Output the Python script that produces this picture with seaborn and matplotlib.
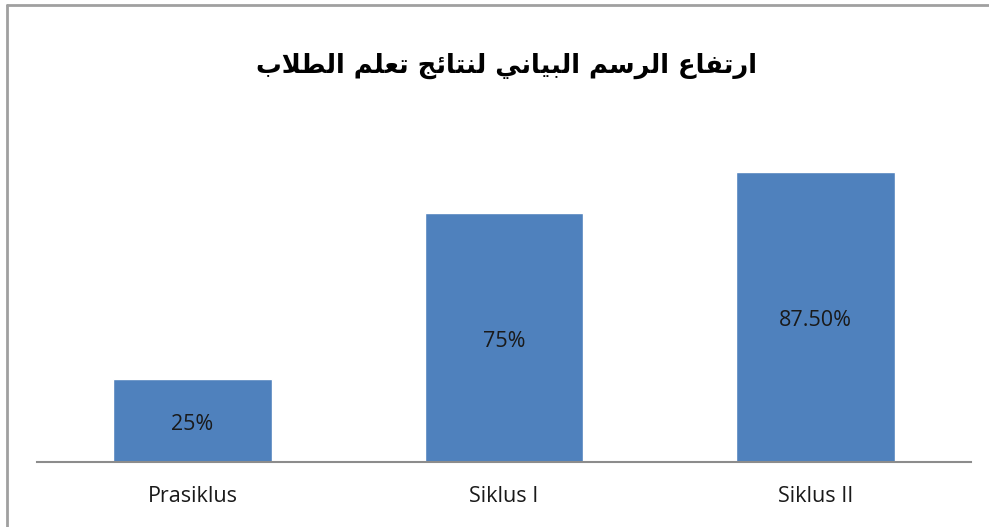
import matplotlib
matplotlib.use("Agg")
import matplotlib.pyplot as plt
import seaborn as sns
import pandas as pd
from matplotlib.lines import Line2D

# Datos
categorias = ["Prasiklus", "Siklus I", "Siklus II"]
valores = [25, 75, 87.5]
etiquetas = ["25%", "75%", "87.50%"]
titulo = "ارتفاع الرسم البياني لنتائج تعلم الطلاب"

# Formas de presentacion arabes (aislada, final, inicial, media)
FORMAS = {
    "ا": ("\uFE8D", "\uFE8E", None, None),
    "ب": ("\uFE8F", "\uFE90", "\uFE91", "\uFE92"),
    "ت": ("\uFE95", "\uFE96", "\uFE97", "\uFE98"),
    "ج": ("\uFE9D", "\uFE9E", "\uFE9F", "\uFEA0"),
    "ر": ("\uFEAD", "\uFEAE", None, None),
    "س": ("\uFEB1", "\uFEB2", "\uFEB3", "\uFEB4"),
    "ط": ("\uFEC1", "\uFEC2", "\uFEC3", "\uFEC4"),
    "ع": ("\uFEC9", "\uFECA", "\uFECB", "\uFECC"),
    "ف": ("\uFED1", "\uFED2", "\uFED3", "\uFED4"),
    "ل": ("\uFEDD", "\uFEDE", "\uFEDF", "\uFEE0"),
    "م": ("\uFEE1", "\uFEE2", "\uFEE3", "\uFEE4"),
    "ن": ("\uFEE5", "\uFEE6", "\uFEE7", "\uFEE8"),
    "ي": ("\uFEF1", "\uFEF2", "\uFEF3", "\uFEF4"),
    "ئ": ("\uFE89", "\uFE8A", "\uFE8B", "\uFE8C"),
    "LA": ("\uFEFB", "\uFEFC", None, None),
}


def dar_forma(texto):
    # separa en letras, juntando lam + alef en una ligadura
    letras = []
    i = 0
    while i < len(texto):
        if texto[i] == "ل" and i + 1 < len(texto) and texto[i + 1] == "ا":
            letras.append("LA")
            i += 2
        else:
            letras.append(texto[i])
            i += 1
    salida = []
    for i, c in enumerate(letras):
        if c not in FORMAS:
            salida.append(c)
            continue
        prev = letras[i - 1] if i > 0 else None
        sig = letras[i + 1] if i + 1 < len(letras) else None
        une_prev = prev in FORMAS and FORMAS[prev][2] is not None
        une_sig = sig in FORMAS and FORMAS[c][2] is not None
        iso, fin, ini, med = FORMAS[c]
        if une_prev and une_sig:
            salida.append(med)
        elif une_prev:
            salida.append(fin)
        elif une_sig:
            salida.append(ini)
        else:
            salida.append(iso)
    # se dibuja de izquierda a derecha, asi que se invierte
    return "".join(salida)[::-1]


df = pd.DataFrame({"categoria": categorias, "valor": valores})

sns.set_style("white")
fig = plt.figure(figsize=(9.89, 5.27), dpi=100)
ax = fig.add_axes([36.75 / 989, 65 / 527, 934.5 / 989, 331.4 / 527])

sns.barplot(data=df, x="categoria", y="valor", color="#4F81BD", saturation=1,
            width=0.51, ax=ax)
ax.set_xlim(-0.5, 2.5)
ax.set_ylim(0, 100)

fuente = ["Open Sans", "DejaVu Sans"]

# Etiquetas dentro de las barras (un poco por debajo del centro)
for i, (v, t) in enumerate(zip(valores, etiquetas)):
    ax.annotate(t, xy=(i, v / 2), xytext=(0, -2.5), textcoords="offset points",
                ha="center", va="center", fontsize=15.5,
                family=fuente, color="#1a1a1a")

ax.set_xlabel("")
ax.set_ylabel("")
ax.set_yticks([])
ax.tick_params(axis="x", length=0, pad=17)
for lab in ax.get_xticklabels():
    lab.set_fontfamily(fuente)
    lab.set_fontsize(15.5)
    lab.set_color("#1a1a1a")

for s in ["top", "left", "right"]:
    ax.spines[s].set_visible(False)
ax.spines["bottom"].set_color("#8c8c8c")
ax.spines["bottom"].set_linewidth(1.5)

# Titulo
fig.text(506 / 989, 1 - 66 / 527, dar_forma(titulo), ha="center", va="center",
         fontsize=18.5, fontweight="bold", family=["DejaVu Sans"], color="black")

# Borde de la imagen (solo arriba e izquierda)
fig.add_artist(Line2D([7 / 989, 7 / 989], [0, 1 - 5 / 527], transform=fig.transFigure,
                      color="#a0a0a0", lw=2))
fig.add_artist(Line2D([7 / 989, 1], [1 - 5 / 527, 1 - 5 / 527], transform=fig.transFigure,
                      color="#a0a0a0", lw=2))

fig.savefig("out.png", dpi=100)
